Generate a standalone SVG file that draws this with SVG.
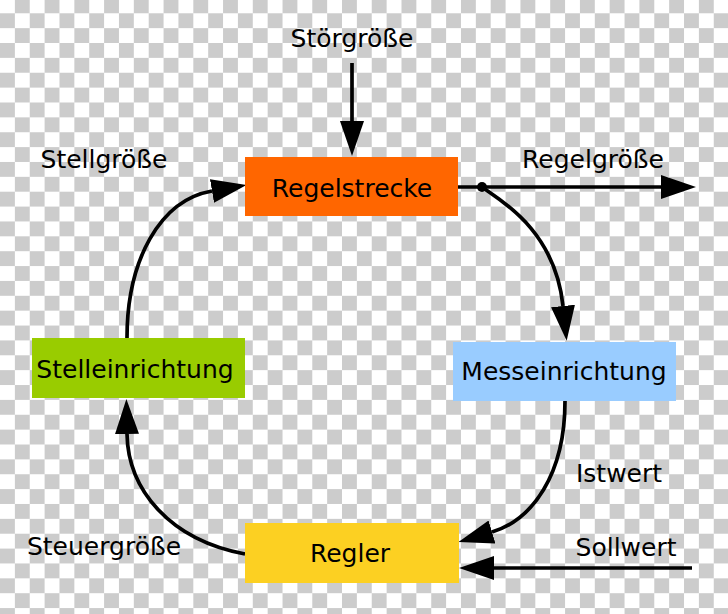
<svg xmlns="http://www.w3.org/2000/svg" width="728" height="614" viewBox="0 0 728 614">
<style>
text{font-family:"DejaVu Sans","Liberation Sans",sans-serif;font-size:25px;fill:#000;text-anchor:middle}
.wire{fill:none;stroke:#000;stroke-width:3.7}
.box{stroke:none}
</style>
<defs>
<pattern id="chk" patternUnits="userSpaceOnUse" x="0" y="-1.6" width="29.74" height="29.74">
<rect width="29.74" height="29.74" fill="#fff"/>
<rect x="14.87" y="0" width="14.87" height="14.87" fill="#cccccc"/>
<rect x="0" y="14.87" width="14.87" height="14.87" fill="#cccccc"/>
</pattern>
<marker id="arr" markerUnits="userSpaceOnUse" markerWidth="36" markerHeight="24" viewBox="0 0 36 24" refX="0" refY="12" orient="auto">
<path d="M0,0 L35,12 L0,24 z" fill="#000"/>
</marker>
</defs>
<rect width="728" height="614" fill="url(#chk)"/>
<g id="connectors">
<path class="wire" d="M352,63 V121" marker-end="url(#arr)"/>
<path class="wire" d="M458,187 H661" marker-end="url(#arr)"/>
<circle cx="482" cy="187" r="5" fill="#000"/>
<path class="wire" d="M482,187 C500,200 555,230 563,306" marker-end="url(#arr)"/>
<path class="wire" d="M565,401 C565,475 532,520 492,532" marker-end="url(#arr)"/>
<path class="wire" d="M692,568 H494" marker-end="url(#arr)"/>
<path class="wire" d="M245,554 C170,540 128,490 127,434" marker-end="url(#arr)"/>
<path class="wire" d="M127,338 C127,260 160,200 212,191" marker-end="url(#arr)"/>
</g>
<g id="regelstrecke">
<rect class="box" x="245" y="157" width="213" height="59" fill="#ff6600"/>
<text x="352" y="197">Regelstrecke</text>
</g>
<g id="messeinrichtung">
<rect class="box" x="453" y="342" width="223" height="59" fill="#99ccff"/>
<text x="564" y="380">Messeinrichtung</text>
</g>
<g id="regler">
<rect class="box" x="245" y="523" width="214" height="60" fill="#fcd022"/>
<text x="350" y="562">Regler</text>
</g>
<g id="stelleinrichtung">
<rect class="box" x="32" y="338" width="213" height="60" fill="#99cc00"/>
<text x="135" y="378">Stelleinrichtung</text>
</g>
<g id="labels">
<text x="352" y="47">Störgröße</text>
<text x="593" y="168">Regelgröße</text>
<text x="104" y="168">Stellgröße</text>
<text x="619" y="482">Istwert</text>
<text x="626" y="556">Sollwert</text>
<text x="104" y="555">Steuergröße</text>
</g>
</svg>
